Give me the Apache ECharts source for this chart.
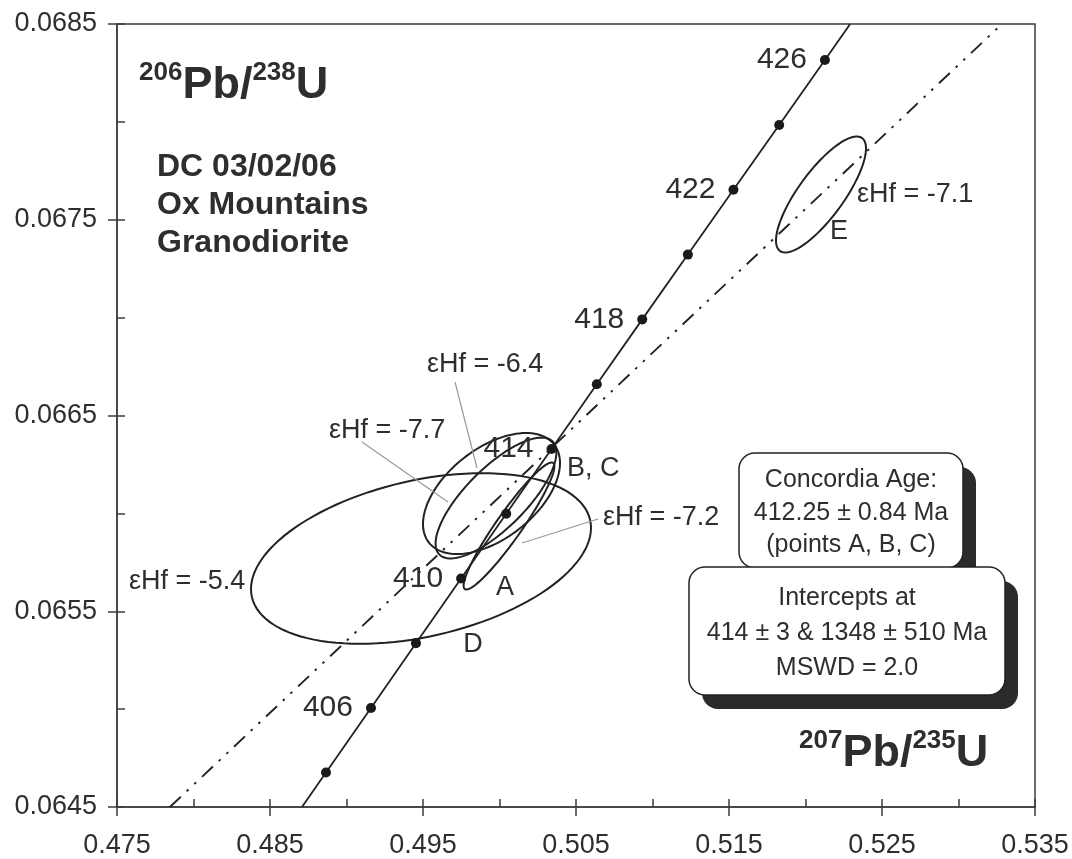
<!DOCTYPE html>
<html>
<head>
    <meta charset="utf-8">
    <title>Concordia DC 03/02/06</title>
    <script src="https://cdn.jsdelivr.net/npm/echarts@6/dist/echarts.min.js"></script>
    <style>
        html, body { margin: 0; padding: 0; background: #fff; }
        #chart { width: 1072px; height: 859px; }
    </style>
</head>
<body>
<div id="chart"></div>
<script>
    // tick labels
    var xTickLabels = ['0.475', '0.485', '0.495', '0.505', '0.515', '0.525', '0.535'];
    var yTickLabels = ['0.0645', '0.0655', '0.0665', '0.0675', '0.0685'];

    // concordia age marks (Ma) and their 207Pb/235U, 206Pb/238U positions
    var concAge = [404, 406, 408, 410, 412, 414, 416, 418, 420, 422, 424, 426];
    var concX = [0.48866, 0.49160, 0.49454, 0.49749, 0.50044, 0.50340, 0.50636, 0.50933, 0.51231, 0.51529, 0.51828, 0.52127];
    var concY = [0.064676, 0.065006, 0.065337, 0.065667, 0.065998, 0.066329, 0.066660, 0.066991, 0.067322, 0.067653, 0.067984, 0.068316];
    var labeledAges = [406, 410, 414, 418, 422, 426];
    // ends of the concordia line in the frame
    var concEndX = [0.48709, 0.52292];
    var concEndY = [0.0645, 0.0685];

    // discordia
    var discX = [0.47846, 0.53284];
    var discY = [0.0645, 0.0685];

    // error ellipses: centre, half extents and correlation
    var ellName = ['D', 'B', 'C', 'A', 'E'];
    var ellX = [0.494869, 0.499477, 0.499771, 0.500621, 0.521013];
    var ellY = [0.0657695, 0.0661015, 0.0660785, 0.0659355, 0.067629];
    var ellHalfX = [0.011111, 0.004477, 0.003948, 0.002967, 0.002941];
    var ellHalfY = [0.0004358, 0.000309, 0.0003086, 0.0003244, 0.0002963];
    var ellRho = [0.358, 0.504, 0.754, 0.939, 0.794];

    var ink = '#222222';
    var txt = '#2e2e2e';
    var FONT = 'Liberation Sans';

    var myChart = echarts.init(document.getElementById('chart'));

    var ellData = ellName.map(function (n, i) {
        return [ellX[i], ellY[i], ellHalfX[i], ellHalfY[i], ellRho[i]];
    });

    var dots = concAge.map(function (a, i) {
        return {
            value: [concX[i], concY[i]],
            name: String(a),
            label: { show: labeledAges.indexOf(a) >= 0 }
        };
    });

    function ellipseItem(params, api) {
        var cx = api.value(0), cy = api.value(1), hx = api.value(2), hy = api.value(3), r = api.value(4);
        var q = Math.sqrt(1 - r * r);
        var pts = [];
        for (var k = 0; k < 120; k++) {
            var t = k / 120 * 2 * Math.PI;
            pts.push(api.coord([cx + hx * Math.cos(t), cy + hy * (r * Math.cos(t) + q * Math.sin(t))]));
        }
        return {
            type: 'polygon',
            shape: { points: pts },
            style: { fill: 'none', stroke: ink, lineWidth: 2 }
        };
    }

    function txtEl(text, x, y, size, align, weight) {
        return {
            type: 'text',
            z: 100,
            style: {
                text: text, x: x, y: y,
                fill: txt,
                fontSize: size, fontFamily: FONT, fontWeight: weight || 'normal',
                align: align || 'left', textAlign: align || 'left',
                verticalAlign: 'middle', textVerticalAlign: 'middle'
            }
        };
    }

    function leader(x1, y1, x2, y2) {
        return {
            type: 'line', z: 90,
            shape: { x1: x1, y1: y1, x2: x2, y2: y2 },
            style: { stroke: '#9a9a9a', lineWidth: 1.2 }
        };
    }

    function box(x, y, w, h) {
        return [
            { type: 'rect', z: 110, shape: { x: x + 13, y: y + 14, width: w, height: h, r: 16 }, style: { fill: '#2b2b2b' } },
            { type: 'rect', z: 111, shape: { x: x, y: y, width: w, height: h, r: 16 }, style: { fill: '#fff', stroke: ink, lineWidth: 1.5 } }
        ];
    }

    function isoTitle(x, lineTop, a, b) {
        return {
            type: 'text', z: 100,
            style: {
                text: '{s|' + a + '}{m|Pb/}{s|' + b + '}{m|U}',
                x: x, y: lineTop,
                verticalAlign: 'top', textVerticalAlign: 'top',
                rich: {
                    s: { fontSize: 26, fontWeight: 'bold', fontFamily: FONT, fill: txt, lineHeight: 26, verticalAlign: 'top' },
                    m: { fontSize: 45, fontWeight: 'bold', fontFamily: FONT, fill: txt, lineHeight: 48, verticalAlign: 'bottom' }
                }
            }
        };
    }

    var graphics = [];
    graphics.push(isoTitle(139, 60, '206', '238'));
    graphics.push(isoTitle(799, 728, '207', '235'));
    graphics.push(txtEl('DC 03/02/06', 157, 167, 32, 'left', 'bold'));
    graphics.push(txtEl('Ox Mountains', 157, 205, 32, 'left', 'bold'));
    graphics.push(txtEl('Granodiorite', 157, 243, 32, 'left', 'bold'));

    graphics.push(txtEl('\u03b5Hf = -6.4', 427, 365, 27));
    graphics.push(txtEl('\u03b5Hf = -7.7', 329, 431, 27));
    graphics.push(txtEl('\u03b5Hf = -5.4', 129, 582, 27));
    graphics.push(txtEl('\u03b5Hf = -7.2', 603, 518, 27));
    graphics.push(txtEl('\u03b5Hf = -7.1', 857, 195, 27));
    graphics.push(txtEl('A', 505, 588, 27, 'center'));
    graphics.push(txtEl('D', 473, 645, 27, 'center'));
    graphics.push(txtEl('E', 839, 232, 27, 'center'));
    graphics.push(txtEl('B, C', 567, 469, 27));

    graphics.push(leader(455, 382, 477, 468));
    graphics.push(leader(362, 442, 448, 502));
    graphics.push(leader(598, 519, 522, 543));

    graphics = graphics.concat(box(739, 453, 224, 115));
    graphics = graphics.concat(box(689, 567, 316, 128));
    [['Concordia Age:', 480], ['412.25 \u00b1 0.84 Ma', 513], ['(points A, B, C)', 545]].forEach(function (l) {
        var e = txtEl(l[0], 851, l[1], 25, 'center'); e.z = 120; graphics.push(e);
    });
    [['Intercepts at', 598], ['414 \u00b1 3 & 1348 \u00b1 510 Ma', 633], ['MSWD = 2.0', 668]].forEach(function (l) {
        var e = txtEl(l[0], 847, l[1], 25, 'center'); e.z = 120; graphics.push(e);
    });

    var axisLineStyle = { color: '#3c3c3c', width: 1.5 };

    var option = {
        animation: false,
        backgroundColor: '#fff',
        textStyle: { fontFamily: FONT },
        grid: { left: 117, right: 37, top: 24, bottom: 52, show: true, borderColor: '#3c3c3c', borderWidth: 1.5 },
        xAxis: [
            {
                type: 'value', min: 0.475, max: 0.535, interval: 0.005,
                axisLine: { onZero: false, lineStyle: axisLineStyle },
                axisTick: { inside: true, length: 8, lineStyle: axisLineStyle },
                axisLabel: { show: false },
                splitLine: { show: false }
            },
            {
                type: 'value', position: 'bottom', min: 0, max: 0.06, interval: 0.01,
                axisLine: { show: false, onZero: false },
                axisTick: { inside: false, length: 9, lineStyle: axisLineStyle },
                axisLabel: {
                    margin: 25, fontSize: 27, color: txt, fontFamily: FONT,
                    formatter: function (v) { return xTickLabels[Math.round(v / 0.01)]; }
                },
                splitLine: { show: false }
            }
        ],
        yAxis: [
            {
                type: 'value', min: 0.0645, max: 0.0685, interval: 0.0005,
                axisLine: { onZero: false, lineStyle: axisLineStyle },
                axisTick: { inside: true, length: 8, lineStyle: axisLineStyle },
                axisLabel: { show: false },
                splitLine: { show: false }
            },
            {
                type: 'value', position: 'left', min: 0, max: 0.004, interval: 0.001,
                axisLine: { show: false, onZero: false },
                axisTick: { inside: false, length: 9, lineStyle: axisLineStyle },
                axisLabel: {
                    margin: 20, fontSize: 27, color: txt, fontFamily: FONT,
                    formatter: function (v) { return yTickLabels[Math.round(v / 0.001)]; }
                },
                splitLine: { show: false }
            }
        ],
        series: [
            {
                name: 'ellipses', type: 'custom', xAxisIndex: 0, yAxisIndex: 0,
                renderItem: ellipseItem,
                encode: { x: 0, y: 1 },
                data: ellData, z: 3, silent: true
            },
            {
                name: 'discordia', type: 'line', xAxisIndex: 0, yAxisIndex: 0,
                data: discX.map(function (x, i) { return [x, discY[i]]; }),
                symbol: 'none', z: 4,
                lineStyle: { color: ink, width: 1.9, type: [15, 8, 2.5, 8, 2.5, 8] }
            },
            {
                name: 'concordia', type: 'line', xAxisIndex: 0, yAxisIndex: 0,
                data: [[concEndX[0], concEndY[0]]].concat(concX.map(function (x, i) { return [x, concY[i]]; })).concat([[concEndX[1], concEndY[1]]]),
                symbol: 'none', z: 5,
                lineStyle: { color: ink, width: 1.8 }
            },
            {
                name: 'ages', type: 'scatter', xAxisIndex: 0, yAxisIndex: 0,
                data: dots, symbolSize: 10, z: 6,
                itemStyle: { color: '#1a1a1a', opacity: 1 },
                label: {
                    position: 'left', distance: 13, fontSize: 30, color: txt, opacity: 1,
                    textBorderWidth: 0, fontFamily: FONT,
                    formatter: function (p) { return p.name; }
                }
            }
        ],
        graphic: graphics
    };

    myChart.setOption(option);
</script>
</body>
</html>
